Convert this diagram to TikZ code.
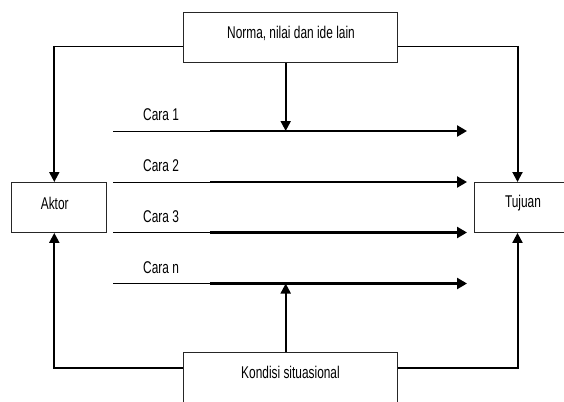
\documentclass[tikz,border=0pt]{standalone}
\usepackage{fontspec}
\setmainfont{Liberation Sans}[FakeStretch=0.7]
\usetikzlibrary{arrows.meta}
\begin{document}
\begin{tikzpicture}[x=1pt,y=-1pt,
  box/.style={draw=black!85, line width=0.9pt, inner sep=0pt, anchor=north west},
  lbl/.style={font=\fontsize{17}{19}\selectfont, inner sep=0pt},
  hline/.style={line width=1.4pt},
  feed/.style={line width=2pt, -{Triangle[length=10pt,width=10pt]}},
  thinline/.style={line width=0.9pt},
  thickline/.style={line width=2.6pt, -{Triangle[length=10pt,width=11pt]}}]
\useasboundingbox (0,0) rectangle (564,401);
\clip (0,0) rectangle (564,401);

% boxes
\node[box, minimum width=214pt, minimum height=50pt] (norma) at (183,12) {};
\node[box, minimum width=95pt, minimum height=50pt] (aktor) at (11,182) {};
\node[box, minimum width=100pt, minimum height=50pt] (tujuan) at (474,182) {};
\node[box, minimum width=214pt, minimum height=60pt] (kondisi) at (183,352) {};

% box texts
\node[lbl] (tnorma) at (291,33) {Norma, nilai dan ide lain};
\node[lbl] (taktor) at (54.7,203) {Aktor};
\node[lbl] (ttujuan) at (523,203) {Tujuan};
\node[lbl] (tkondisi) at (290.5,372) {Kondisi situasional};

% Cara lines
\foreach \i/\y/\t in {1/131/Cara 1, 2/182/Cara 2, 3/232.5/Cara 3, n/283.5/Cara n}{
  \coordinate (s\i) at (113,\y);
  \coordinate (m\i) at (210,\y);
  \coordinate (e\i) at (467,\y);
  \node[lbl, anchor=west] (l\i) at (143,\y-16) {\t};
  \draw[thinline] (s\i) -- (m\i);
  \draw[thickline] (m\i) -- (e\i);
}

% central arrows
\coordinate (j1) at (285.7,131);
\coordinate (jn) at (285.7,283.5);
\draw[feed] (norma.south -| j1) -- (j1);
\draw[feed] (kondisi.north -| jn) -- (jn);

% feedback corners
\coordinate (ctl) at (54.3,46.5);
\coordinate (ctr) at (517.5,46.5);
\coordinate (cbl) at (54.3,368);
\coordinate (cbr) at (517.5,368);

\draw[hline] (norma.west |- ctl) -- (ctl);
\draw[feed] ([yshift=0.7pt]ctl) -- (aktor.north -| ctl);
\draw[hline] (norma.east |- ctr) -- (ctr);
\draw[feed] ([yshift=0.7pt]ctr) -- (tujuan.north -| ctr);
\draw[hline] (kondisi.west |- cbl) -- (cbl);
\draw[feed] ([yshift=-0.7pt]cbl) -- (aktor.south -| cbl);
\draw[hline] (kondisi.east |- cbr) -- (cbr);
\draw[feed] ([yshift=-0.7pt]cbr) -- (tujuan.south -| cbr);
\end{tikzpicture}
\end{document}
